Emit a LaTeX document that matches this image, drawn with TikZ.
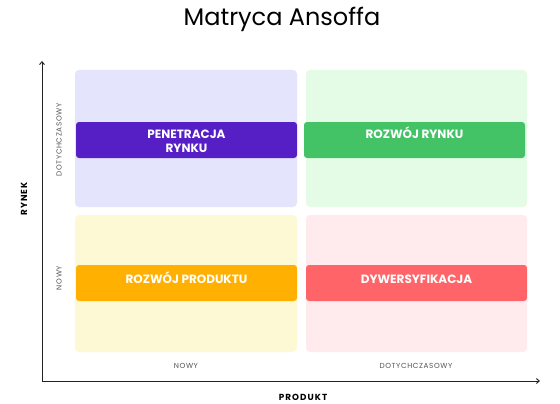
\documentclass[tikz,border=0pt]{standalone}
\usepackage{fontspec}
\setmainfont{Poppins}
\usetikzlibrary{arrows.meta}
\definecolor{qpurple}{HTML}{E4E4FD}
\definecolor{bpurple}{HTML}{561FC6}
\definecolor{qgreen}{HTML}{E4FCE6}
\definecolor{bgreen}{HTML}{44C366}
\definecolor{qyellow}{HTML}{FEF9D5}
\definecolor{byellow}{HTML}{FFB000}
\definecolor{qpink}{HTML}{FFEBED}
\definecolor{bred}{HTML}{FF6468}
\definecolor{axisgray}{HTML}{222222}
\definecolor{labgray}{HTML}{555555}
\begin{document}
\begin{tikzpicture}[x=1pt,y=-1pt,
  quad/.style={rounded corners=4pt, inner sep=0pt, outer sep=0pt, minimum height=137pt},
  bar/.style={rounded corners=3pt, inner sep=0pt, outer sep=0pt, minimum width=221pt, minimum height=36pt},
  bartext/.style={anchor=base, inner sep=0pt, text=white, align=center, font=\fontsize{12}{13.7}\selectfont\bfseries},
  smalllab/.style={inner sep=0pt, text=labgray, font=\fontsize{7.3}{9}\selectfont\addfontfeatures{LetterSpace=8}},
  axislab/.style={inner sep=0pt, text=black, font=\fontsize{8.8}{10}\selectfont\bfseries\addfontfeatures{LetterSpace=12}},
  axisline/.style={draw=axisgray, line width=0.9pt, -{Straight Barb[length=3pt,width=5pt]}}
]
\useasboundingbox[fill=white] (0,0) rectangle (560,404);

\node[font=\fontsize{24}{28}\selectfont] (title) at (282,19) {Matryca Ansoffa};

% quadrants
\node[quad, fill=qpurple, minimum width=222pt] (qtl) at (186,138.5) {};
\node[quad, fill=qgreen, minimum width=221pt] (qtr) at (416.5,138.5) {};
\node[quad, fill=qyellow, minimum width=222pt] (qbl) at (186,283.5) {};
\node[quad, fill=qpink, minimum width=221pt] (qbr) at (416.5,283.5) {};

% bars
\node[bar, fill=bpurple] (btl) at (186.5,140) {};
\node[bar, fill=bgreen] (btr) at (414.5,140) {};
\node[bar, fill=byellow] (bbl) at (186.5,283) {};
\node[bar, fill=bred] (bbr) at (416.5,283) {};

\node[bartext] (ttl) at (186.5,152.7) {PENETRACJA\\RYNKU};
\node[bartext] (ttr) at (414.5,139) {ROZWÓJ RYNKU};
\node[bartext] (tbl) at (186.5,283) {ROZWÓJ PRODUKTU};
\node[bartext] (tbr) at (416.5,283) {DYWERSYFIKACJA};

% axes
\coordinate (orig) at (42,381);
\coordinate (ytop) at (42,61);
\coordinate (xend) at (540,381);
\draw[axisline] (orig) -- (ytop);
\draw[axisline] (orig) -- (xend);

% labels
\node[smalllab, rotate=90] (ldot) at (59,140) {DOTYCHCZASOWY};
\node[smalllab, rotate=90] (lnowy) at (59,278) {NOWY};
\node[smalllab] (bnowy) at (186,366) {NOWY};
\node[smalllab] (bdot) at (416,366) {DOTYCHCZASOWY};
\node[axislab] (prod) at (303,397) {PRODUKT};
\node[axislab, rotate=90] (rynek) at (24,199) {RYNEK};
\end{tikzpicture}
\end{document}
